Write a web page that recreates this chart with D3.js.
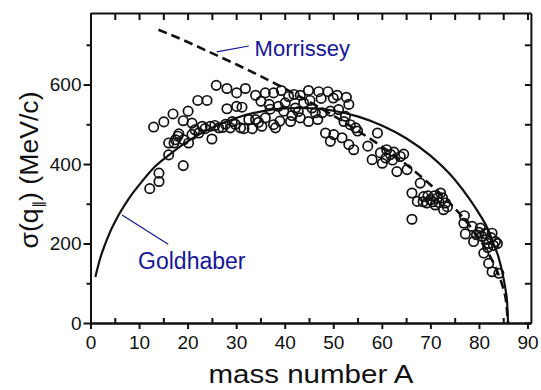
<!DOCTYPE html>
<html>
<head>
<meta charset="utf-8">
<script src="https://cdn.jsdelivr.net/npm/d3@7"></script>
<style>
  body { margin: 0; background: #fff; }
  svg { display: block; }
</style>
</head>
<body>
<svg id="chart" width="541" height="390"></svg>
<script>
// Fragment mass number A and longitudinal momentum width sigma(q||) in MeV/c
const massA = [
  12.2, 14.1, 14.1, 13.0, 15.1, 16.1, 16.1, 17.2, 17.5, 18.2, 17.0, 19.1, 19.1, 19.2, 20.1,
  20.2, 20.9, 20.9, 22.1, 22.3, 23.0, 24.0, 24.7, 25.0, 25.9, 26.4, 28.1, 28.1, 28.8, 29.2,
  30.1, 30.1, 30.9, 31.2, 31.9, 32.6, 18.0, 21.5, 23.6, 25.6, 27.2, 27.8, 29.8,
  34.0, 35.1, 36.0, 37.7, 39.3, 40.8, 41.9, 43.2, 44.9, 47.0, 48.9, 50.8, 52.7, 53.2, 40.1,
  42.2, 43.9, 45.6, 47.7, 49.4, 51.1, 34.0, 36.0, 31.6, 33.3, 35.3, 37.7, 38.1, 41.2, 43.2,
  44.9, 46.3, 48.4, 50.1, 49.4, 51.8, 53.2, 54.2, 52.2, 53.5, 54.6, 39.8, 50.0, 52.5, 36.8,
  38.7, 45.2, 47.5, 41.5, 42.8, 46.8, 39.0, 34.6, 37.0,
  55.0, 57.1, 59.1, 58.0, 59.7, 60.1,
  61.8, 63.8, 63.1, 65.2, 67.9, 66.2, 67.3, 68.6, 70.0, 71.4, 72.1, 73.1, 72.7, 66.2, 71.0,
  69.3, 61.0, 62.5, 60.8, 62.2, 64.5, 69.5, 70.5, 71.8, 72.5, 70.8, 68.5, 73.5,
  77.0, 76.9, 77.2, 78.9, 80.3, 81.0, 82.0, 82.7, 83.4, 80.6, 78.6, 82.7, 84.1, 81.5, 82.0,
  82.5, 81.2, 83.0, 80.0, 79.5, 81.8, 83.8
];
const sigmaMeV = [
  338, 356, 377, 493, 506, 423, 453, 453, 461, 476, 526, 396, 509, 461, 533,
  453, 474, 503, 560, 478, 495, 560, 495, 463, 598, 491, 590, 539, 491, 507,
  579, 545, 491, 543, 590, 512, 470, 486, 489, 497, 492, 500, 500,
  573, 558, 579, 579, 585, 570, 575, 573, 585, 582, 582, 573, 568, 550, 554,
  541, 554, 541, 529, 533, 537, 512, 516, 489, 489, 495, 499, 491, 507, 516,
  507, 529, 478, 474, 457, 466, 449, 436, 507, 499, 491, 533, 566, 520, 550,
  545, 560, 565, 522, 532, 512, 508, 505, 538,
  483, 445, 478, 411, 428, 402,
  424, 419, 381, 386, 352, 327, 306, 318, 310, 314, 327, 302, 285, 261, 297,
  302, 436, 430, 415, 410, 425, 320, 305, 303, 315, 320, 305, 292,
  270, 251, 224, 205, 239, 176, 150, 129, 205, 218, 243, 226, 125, 210, 200,
  215, 225, 195, 228, 222, 190, 200
];

// Goldhaber curve (solid)
const goldA     = [1, 2, 3, 4, 6, 8, 10, 13, 16, 20, 25, 30, 35, 40, 43, 46, 50, 55, 60, 65, 70, 75, 78, 80, 82, 83, 84, 85, 85.5, 85.8, 86];
const goldSigma = [116, 163, 198, 228, 276, 315, 347, 390, 421, 457, 491, 516, 532, 540, 541, 540, 534, 520, 497, 465, 421, 361, 313, 276, 232, 199, 167, 116, 82, 52, 0];

// Morrissey systematics (dashed)
const morA     = [14, 20, 25, 30, 35, 40, 45, 50, 55, 60, 65, 70, 75, 78, 80, 82, 83, 84, 85, 85.5, 86];
const morSigma = [738, 707, 679, 651, 621, 590, 557, 522, 484, 444, 399, 348, 289, 246, 213, 174, 151, 123, 87, 62, 0];

const xMajor = [0, 10, 20, 30, 40, 50, 60, 70, 80, 90];
const xMinor = [5, 15, 25, 35, 45, 55, 65, 75, 85];
const yMajor = [0, 200, 400, 600];
const yMinor = [100, 300, 500, 700];

const svg = d3.select("#chart");
const x = d3.scaleLinear().domain([0, 90.7]).range([90.5, 530.9]);
const y = d3.scaleLinear().domain([0, 780]).range([323, 13]);

const ink = "#111";
const font = "'Liberation Sans', Arial, sans-serif";

// axes / frame
function style(g) {
  g.selectAll("path.domain").attr("stroke", ink).attr("stroke-width", 2);
  g.selectAll(".tick line").attr("stroke", ink).attr("stroke-width", 2);
  g.selectAll(".tick text").attr("fill", ink).attr("font-family", font).attr("font-size", 19);
}

svg.append("g").attr("transform", `translate(0,${y(0)})`)
  .call(d3.axisBottom(x).tickValues(xMajor).tickSize(6).tickSizeOuter(0).tickPadding(7).tickFormat(d3.format("d")))
  .call(style);
svg.append("g").attr("transform", `translate(0,${y(0)})`)
  .call(d3.axisBottom(x).tickValues(xMinor).tickSize(-5).tickSizeOuter(0).tickFormat(""))
  .call(style);
svg.append("g").attr("transform", `translate(${x(0)},0)`)
  .call(d3.axisLeft(y).tickValues(yMajor).tickSize(7).tickSizeOuter(0).tickPadding(2).tickFormat(d3.format("d")))
  .call(style);
svg.append("g").attr("transform", `translate(${x(0)},0)`)
  .call(d3.axisLeft(y).tickValues(yMinor).tickSize(4).tickSizeOuter(0).tickFormat(""))
  .call(style);
svg.append("g").attr("transform", `translate(0,${y(780)})`)
  .call(d3.axisTop(x).tickValues(xMajor.concat(xMinor)).tickSize(-7).tickSizeOuter(0).tickFormat(""))
  .call(style);
svg.append("g").attr("transform", `translate(${x(90.7)},0)`)
  .call(d3.axisRight(y).tickValues(yMajor.concat(yMinor)).tickSize(-6).tickSizeOuter(0).tickFormat(""))
  .call(style);

// curves
const line = d3.line().x((d) => x(d[0])).y((d) => y(d[1])).curve(d3.curveMonotoneX);
svg.append("path")
  .datum(goldA.map((a, i) => [a, goldSigma[i]]))
  .attr("d", line).attr("fill", "none").attr("stroke", ink).attr("stroke-width", 2.2);
svg.append("path")
  .datum(morA.map((a, i) => [a, morSigma[i]]))
  .attr("d", line).attr("fill", "none").attr("stroke", ink).attr("stroke-width", 2.6)
  .attr("stroke-dasharray", "9,5");

// measured fragments
svg.append("g").selectAll("circle")
  .data(massA.map((a, i) => [a, sigmaMeV[i]]))
  .join("circle")
  .attr("cx", (d) => x(d[0])).attr("cy", (d) => y(d[1])).attr("r", 4.7)
  .attr("fill", "none").attr("stroke", ink).attr("stroke-width", 1.7);

// annotations
const blue = "#16169a";
svg.append("line").attr("x1", x(26.0)).attr("y1", y(682)).attr("x2", x(32.6)).attr("y2", y(697))
  .attr("stroke", blue).attr("stroke-width", 1.2);
svg.append("text").attr("x", x(33.8)).attr("y", y(672)).attr("fill", blue)
  .attr("font-family", font).attr("font-size", 22).text("Morrissey");
svg.append("line").attr("x1", x(6.5)).attr("y1", y(272)).attr("x2", x(16.0)).attr("y2", y(198))
  .attr("stroke", blue).attr("stroke-width", 1.2);
svg.append("text").attr("x", x(9.8)).attr("y", y(135)).attr("fill", blue)
  .attr("font-family", font).attr("font-size", 23).text("Goldhaber");

// axis titles
svg.append("text").attr("x", 311).attr("y", 383).attr("text-anchor", "middle")
  .attr("fill", ink).attr("font-family", font).attr("font-size", 26)
  .attr("textLength", 205).attr("lengthAdjust", "spacingAndGlyphs")
  .text("mass number A");

const yt = svg.append("text").attr("transform", "translate(38,170) rotate(-90)")
  .attr("text-anchor", "middle").attr("fill", ink).attr("font-family", font).attr("font-size", 25)
  .attr("textLength", 157).attr("lengthAdjust", "spacingAndGlyphs");
yt.append("tspan").text("σ(q");
yt.append("tspan").attr("font-size", 14).attr("dy", 5).text("∥");
yt.append("tspan").attr("dy", -5).text(")  (MeV/c)");
</script>
</body>
</html>
